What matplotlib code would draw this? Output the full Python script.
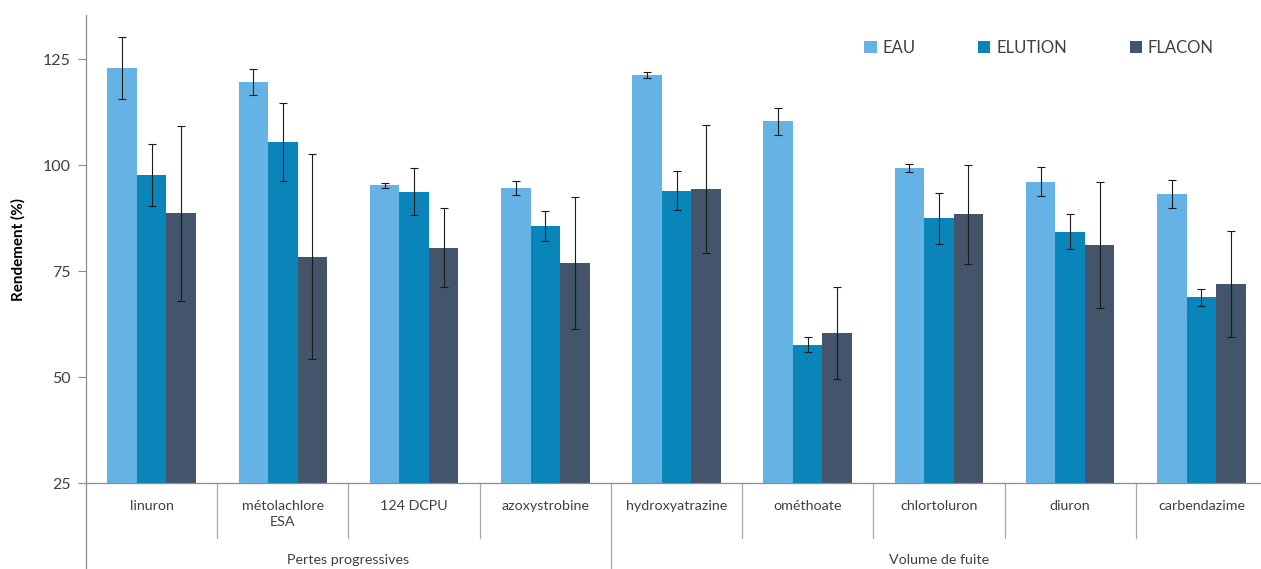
import numpy as np
import matplotlib
matplotlib.use("Agg")
import matplotlib.pyplot as plt
from matplotlib.transforms import blended_transform_factory

plt.rcParams['font.family'] = ['Lato', 'DejaVu Sans']

categories = ["linuron", "métolachlore\nESA", "124 DCPU", "azoxystrobine",
              "hydroxyatrazine", "ométhoate", "chlortoluron", "diuron", "carbendazime"]
groups = ["Pertes progressives", "Volume de fuite"]
group_sizes = [4, 5]
series = ["EAU", "ELUTION", "FLACON"]

eau = [123.0, 119.6, 95.3, 94.7, 121.4, 110.4, 99.3, 96.1, 93.2]
eau_err = [7.3, 3.0, 0.6, 1.6, 0.7, 3.2, 0.9, 3.4, 3.3]
elution = [97.7, 105.5, 93.8, 85.7, 94.0, 57.7, 87.5, 84.3, 68.9]
elution_err = [7.25, 9.1, 5.5, 3.6, 4.6, 1.7, 6.0, 4.1, 2.0]
flacon = [88.7, 78.4, 80.6, 77.0, 94.4, 60.5, 88.4, 81.2, 72.1]
flacon_err = [20.6, 24.2, 9.3, 15.5, 15.2, 10.8, 11.7, 14.9, 12.5]

yticks = [25, 50, 75, 100, 125]
colors = ["#65B3E4", "#0A85BA", "#44546A"]
txt = "#404040"
axis_gray = "#8C8C8C"
sep_gray = "#A6A6A6"

W, H = 1261, 569
fig = plt.figure(figsize=(W / 100, H / 100), dpi=100)
y0, ytop = 483.3, 15
ax = fig.add_axes([86 / W, (H - y0) / H, 1181 / W, (y0 - ytop) / H])

x = np.arange(len(categories))
bw = 0.225
vals = [eau, elution, flacon]
errs = [eau_err, elution_err, flacon_err]
for i, (name, v, e, c) in enumerate(zip(series, vals, errs, colors)):
    xs = x + (i - 1) * bw
    ax.bar(xs, v, width=bw, color=c, label=name, zorder=2)
    ax.errorbar(xs, v, yerr=e, fmt='none', ecolor='#1a1a1a', elinewidth=0.8,
                capsize=3, capthick=0.8, zorder=3)

ax.set_xlim(-0.5, len(categories) - 0.5)
ax.set_ylim(25, 25 + (y0 - ytop) / 4.24)
ax.set_yticks(yticks)
ax.set_xticks([])
ax.tick_params(axis='y', length=6, width=0.8, color=axis_gray, labelcolor=txt,
               labelsize=11.5, pad=5)
for s in ['top', 'right']:
    ax.spines[s].set_visible(False)
ax.spines['left'].set_color(axis_gray)
ax.spines['bottom'].set_color(axis_gray)
ax.spines['left'].set_linewidth(0.9)
ax.spines['bottom'].set_linewidth(0.9)

ax.set_ylabel("Rendement (%)", fontsize=11, fontweight='bold', color='black', labelpad=12)

axh = y0 - ytop
tr = blended_transform_factory(ax.transData, ax.transAxes)
# category labels
for xi, lab in zip(x, categories):
    ax.text(xi, -(500 - y0) / axh, lab,
            transform=tr, ha='center', va='top', fontsize=10.3, color=txt,
            linespacing=1.45)
# category separators
bounds = np.cumsum([0] + group_sizes)
for k in range(1, len(categories)):
    if k in bounds:
        continue
    ax.plot([k - 0.5, k - 0.5], [0, -(538 - y0) / axh], transform=tr,
            color=sep_gray, lw=0.9, clip_on=False)
# group separators and labels
for b in bounds:
    ax.plot([b - 0.5, b - 0.5], [0, -(H + 5 - y0) / axh], transform=tr,
            color=axis_gray if b == 0 else sep_gray, lw=0.9, clip_on=False)
for g, (a, b) in zip(groups, zip(bounds[:-1], bounds[1:])):
    ax.text((a + b - 1) / 2, -(554 - y0) / axh, g, transform=tr, ha='center',
            va='top', fontsize=10.3, color=txt)

leg = ax.legend(loc='center left', bbox_to_anchor=(849 / W, (H - 48) / H),
                bbox_transform=fig.transFigure, ncol=3, frameon=False,
                handlelength=0.75, handleheight=0.75, handletextpad=0.35,
                columnspacing=3.75, fontsize=12)
for t in leg.get_texts():
    t.set_color(txt)

fig.savefig("out.png", dpi=100)
